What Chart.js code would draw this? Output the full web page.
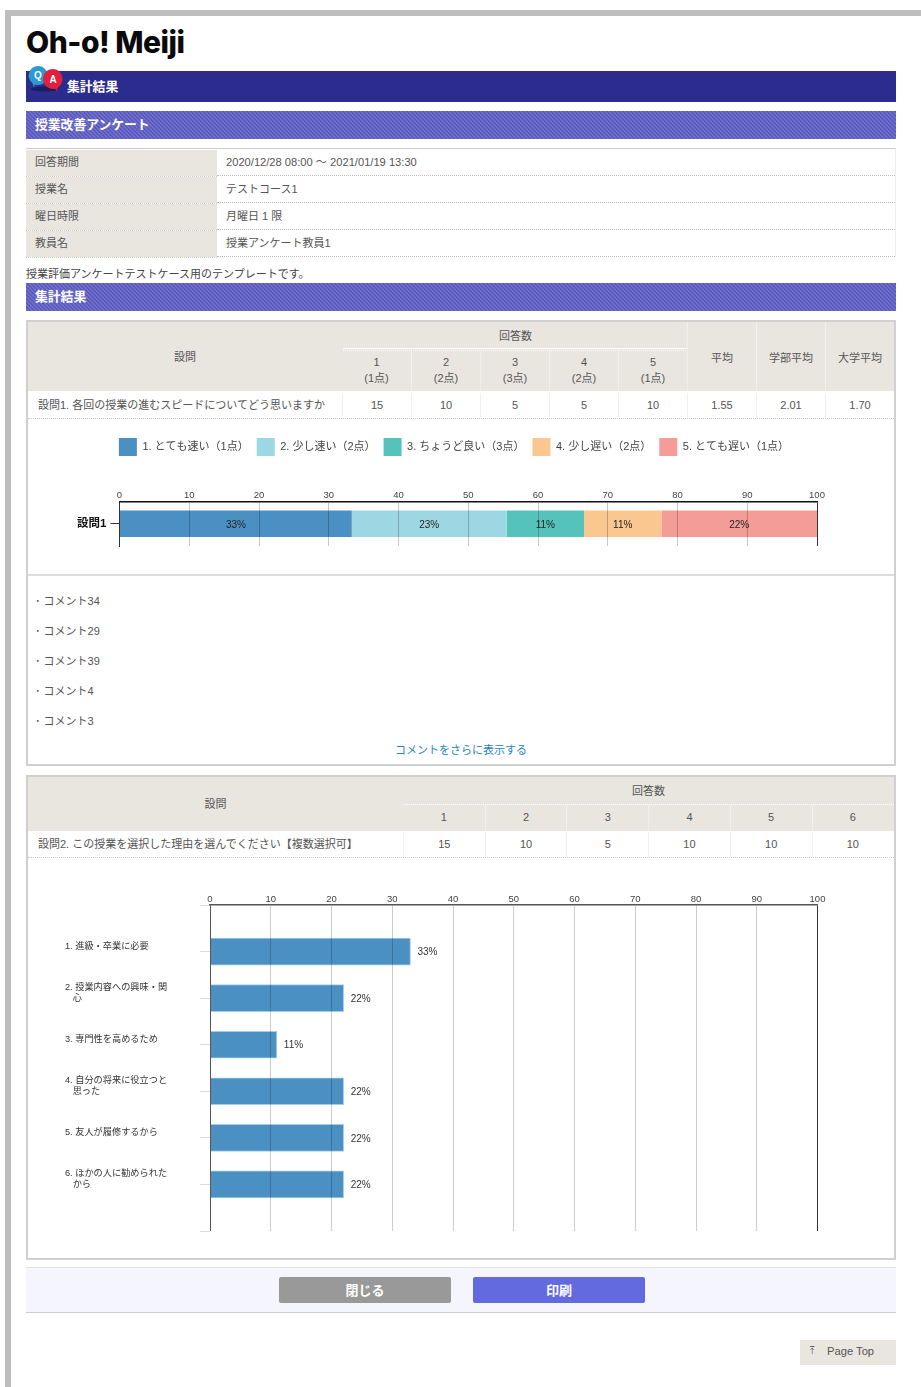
<!DOCTYPE html>
<html lang="ja"><head><meta charset="utf-8">
<script src="https://cdn.jsdelivr.net/npm/chart.js@4"></script>
<style>
html,body{margin:0;padding:0;background:#fff;}
body{width:921px;height:1387px;position:relative;overflow:hidden;font-family:"Liberation Sans","Noto Sans CJK JP",sans-serif;color:#555;font-size:11px;}
.a{position:absolute;box-sizing:border-box;}
.t{position:absolute;white-space:nowrap;line-height:1;}
.c{position:absolute;text-align:center;white-space:nowrap;display:flex;align-items:center;justify-content:center;box-sizing:border-box;line-height:1.45;}
.hatch{background:#6464c4;background-image:repeating-linear-gradient(45deg,#5a5abe 0 1.414px,#7070cc 1.414px 2.828px);}
.bar-t{color:#fff;font-weight:bold;font-size:12.800px;position:absolute;white-space:nowrap;line-height:1;}
canvas{position:absolute;}
</style></head><body>
<div class="a" style="left:5px;top:10px;width:6px;height:1377px;background:#bdbdbd"></div>
<div class="a" style="left:5px;top:10px;width:916px;height:6px;background:#bdbdbd"></div>
<div class="t" style="left:26px;top:27px;font-family:Inter,Lato,sans-serif;font-weight:800;font-size:30px;color:#0a0a0a;letter-spacing:-.5px">Oh-o! Meiji</div>
<div class="a" style="left:26px;top:71px;width:870px;height:31px;background:#2c2c8e"></div>
<svg class="a" style="left:27px;top:64px" width="40" height="30" viewBox="0 0 40 30">
<ellipse cx="18" cy="25" rx="14" ry="2.5" fill="#1c1c5e"/>
<path d="M11 2a9.500 9.500 0 1 1-3 18.500l-1 3-1.500-4.500A9.500 9.500 0 0 1 11 2z" fill="#2a9ad0"/>
<path d="M26 5a10 10 0 1 0 2 19.800l2 2.500 1-4A10 10 0 0 0 26 5z" fill="#e0203c"/>
<text x="11" y="15" font-size="10" font-weight="bold" fill="#fff" text-anchor="middle" font-family="Liberation Sans">Q</text>
<text x="26" y="18.500" font-size="10" font-weight="bold" fill="#fff" text-anchor="middle" font-family="Liberation Sans">A</text>
</svg>
<div class="bar-t" style="left:67px;top:81px">集計結果</div>
<div class="a hatch" style="left:26px;top:111px;width:870px;height:28px"></div>
<div class="bar-t" style="left:35px;top:119px">授業改善アンケート</div>
<div class="a" id="info" style="left:26px;top:148px;width:870px;height:109px;border-top:1px solid #ccc;border-right:1px solid #eee"></div>
<div class="t" style="left:26px;top:269px;color:#444">授業評価アンケートテストケース用のテンプレートです。</div>
<div class="a hatch" style="left:26px;top:283px;width:870px;height:28px"></div>
<div class="bar-t" style="left:35px;top:291px">集計結果</div>

<div class="a" style="left:26px;top:320px;width:870px;height:446px;border:2px solid #d0d0d0"></div>
<div class="a" id="t1" style="left:28px;top:322px;width:866px;height:97px"></div>
<div class="a" style="left:28px;top:574px;width:866px;height:2px;background:#dcdcdc"></div>
<div id="comments"></div>
<div class="t" style="left:28px;width:866px;text-align:center;top:745px;color:#2a86bf;">コメントをさらに表示する</div>
<canvas id="chart1" style="left:27px;top:430px"></canvas>

<div class="a" style="left:26px;top:775px;width:870px;height:485px;border:2px solid #d0d0d0"></div>
<div class="a" id="t2" style="left:28px;top:777px;width:866px;height:81px"></div>
<canvas id="chart2" style="left:28px;top:880px"></canvas>

<div class="a" style="left:26px;top:1267px;width:870px;height:46px;background:#f5f5fd;border-top:1px solid #e2e2e2;border-bottom:1px solid #ccc"></div>
<div class="c" style="left:279px;top:1277px;width:172px;height:26px;padding-top:2px;background:#999;color:#fff;font-weight:bold;font-size:13px;border-radius:2px">閉じる</div>
<div class="c" style="left:473px;top:1277px;width:172px;height:26px;padding-top:2px;background:#636ae0;color:#fff;font-weight:bold;font-size:13px;border-radius:2px">印刷</div>
<div class="a" style="left:800px;top:1340px;width:96px;height:25px;background:#e9e6e0"></div>
<div class="t" style="left:810px;top:1346px;font-family:'DejaVu Sans';font-size:10px;color:#555">⤒</div>
<div class="t" style="left:827px;top:1346px;color:#555;font-size:11.200px">Page Top</div>

<script>
// ---------- page text ----------
const infoLabels = ['回答期間','授業名','曜日時限','教員名'];
const infoValues = ['2020/12/28 08:00 ～ 2021/01/19 13:30','テストコース1','月曜日 1 限','授業アンケート教員1'];
const commentTexts = ['･ コメント34','･ コメント29','･ コメント39','･ コメント4','･ コメント3'];

// ---------- question 1 ----------
const q1Title = '設問1';
const q1Row = '設問1. 各回の授業の進むスピードについてどう思いますか';
const q1Heads = ['1<br>(1点)','2<br>(2点)','3<br>(3点)','4<br>(2点)','5<br>(1点)'];
const q1Counts = [15,10,5,5,10];
const q1Stats = ['1.55','2.01','1.70'];
const q1StatHeads = ['平均','学部平均','大学平均'];
const q1Series = ['1. とても速い（1点）','2. 少し速い（2点）','3. ちょうど良い（3点）','4. 少し遅い（2点）','5. とても遅い（1点）'];
const q1Values = [33.3,22.2,11.1,11.1,22.3];
const q1Labels = ['33%','23%','11%','11%','22%'];
const q1Colors = ['#4b90c2','#9dd7e3','#55c3bb','#f9c78f','#f49c97'];

// ---------- question 2 ----------
const q2Row = '設問2. この授業を選択した理由を選んでください【複数選択可】';
const q2Heads = ['1','2','3','4','5','6'];
const q2Counts = [15,10,5,10,10,10];
const q2Categories = ['',
 ['1. 進級・卒業に必要',''],
 ['2. 授業内容への興味・関','   心',''],
 ['3. 専門性を高めるため',''],
 ['4. 自分の将来に役立つと','   思った',''],
 ['5. 友人が履修するから',''],
 ['6. ほかの人に勧められた','   から',''],
 ''];
const q2Values = [null,33,22,11,22,22,22,null];
const q2Labels = ['','33%','22%','11%','22%','22%','22%',''];
const q2Color = '#4b90c2';
const axisTicks = [0,10,20,30,40,50,60,70,80,90,100];

// ---------- html tables ----------
const BG='#e9e6e0';
function cell(host,x,y,w,h,html,opt){opt=opt||{};
  const d=document.createElement('div');d.className='c';
  d.style.cssText+=`left:${x}px;top:${y}px;width:${w}px;height:${h}px;`+(opt.bg?`background:${opt.bg};`:'')+(opt.css||'');
  d.innerHTML=html;host.appendChild(d);return d;}
const info=document.getElementById('info');
infoLabels.forEach((l,i)=>{
  const y=1+i*27;
  cell(info,0,y,191,26,l,{bg:BG,css:'justify-content:flex-start;padding-left:9px;'});
  cell(info,191,y-0,678,26,infoValues[i],{css:'justify-content:flex-start;padding-left:9px;border-bottom:1px dotted #bbb;'+(i?'':'font-size:11.150px;')});
  cell(info,0,y+26,191,1,'',{css:'border-bottom:1px dotted #ccc;'});
});
const t1=document.getElementById('t1');
const V='border-left:1px solid #f2f0ec;';
cell(t1,0,0,866,69,'',{bg:BG});
cell(t1,0,0,314,72,'設問');
cell(t1,315,0,345,29,'回答数');
cell(t1,315,26,345,3,'',{css:'border-top:1px solid #fff;border-bottom:1px dotted #fff;'});
q1Heads.forEach((h,i)=>cell(t1,314+i*69,29,69,40,h,{css:'line-height:16px;padding-bottom:2px;'+(i?V:'')}));
q1StatHeads.forEach((h,i)=>cell(t1,659+i*69,0,69,69,'<span style="position:relative;top:2px">'+h+'</span>',{css:V}));
cell(t1,0,71,315,25,q1Row,{css:'justify-content:flex-start;padding-left:10px;'});
q1Counts.forEach((v,i)=>cell(t1,314+i*69,71,69,25,String(v),{css:V}));
q1Stats.forEach((v,i)=>cell(t1,659+i*69,71,69,25,v,{css:V}));
cell(t1,0,96,866,1,'',{css:'border-bottom:1px dotted #ccc;'});
const t2=document.getElementById('t2');
cell(t2,0,0,866,54,'',{bg:BG});
cell(t2,0,0,375,56,'設問');
cell(t2,375,0,491,29,'回答数');
cell(t2,375,26,491,2,'',{css:'border-bottom:1px dotted #fff;'});
q2Heads.forEach((h,i)=>cell(t2,375+i*81.7,28,81.7,26,h,{css:i?V:''}));
cell(t2,0,55,375,25,q2Row,{css:'justify-content:flex-start;padding-left:10px;'});
q2Counts.forEach((v,i)=>cell(t2,375+i*81.7,55,81.7,25,String(v),{css:V}));
cell(t2,0,80,866,1,'',{css:'border-bottom:1px dotted #ccc;'});
const cm=document.getElementById('comments');
commentTexts.forEach((c,i)=>{const d=document.createElement('div');d.className='t';
  d.style.cssText=`left:35px;top:${596+i*30}px;`;d.textContent=c;cm.appendChild(d);});

// ---------- charts ----------
const FF='"Liberation Sans","Noto Sans CJK JP",sans-serif';
Chart.defaults.animation=false;
Chart.defaults.responsive=false;
Chart.defaults.font.family=FF;

const c1=document.getElementById('chart1');c1.width=848;c1.height=130;
const stackLabels={id:'stackLabels',afterDatasetsDraw(ch){
  const g=ch.ctx;g.save();g.font='10px '+FF;g.fillStyle='#222';g.textAlign='center';g.textBaseline='middle';
  ch.data.datasets.forEach((ds,i)=>{const el=ch.getDatasetMeta(i).data[0];
    g.fillText(q1Labels[i],(el.base+el.x)/2,el.y+1);});
  g.restore();}};
new Chart(c1,{type:'bar',
  data:{labels:[q1Title],datasets:q1Series.map((s,i)=>({label:s,data:[q1Values[i]],backgroundColor:q1Colors[i],borderWidth:0,barPercentage:.6,categoryPercentage:1}))},
  options:{indexAxis:'y',
    layout:{padding:{top:0,right:58,bottom:14,left:64}},
    plugins:{tooltip:{enabled:false},
      legend:{position:'top',labels:{boxWidth:18,boxHeight:18,padding:8,color:'#444',font:{size:11}}}},
    scales:{
      x:{type:'linear',position:'top',stacked:true,min:0,max:100,
        afterBuildTicks(a){a.ticks=axisTicks.map(v=>({value:v}));},
        afterFit(a){a.height=35.5;},
        border:{color:'#111',width:1.5,z:1},
        grid:{z:1,drawTicks:false,color:c=>(c.tick.value===0||c.tick.value===100)?'#333':'rgba(0,0,0,.22)'},
        ticks:{maxRotation:0,autoSkip:false,padding:0,color:'#444',font:{size:9.5}}},
      y:{stacked:true,
        afterFit(a){a.width=28.5;},
        border:{color:'#222'},
        grid:{offset:false,drawOnChartArea:false,tickLength:9,tickColor:'#333'},
        ticks:{mirror:true,padding:-42.5,color:'#111',font:{size:11.5,weight:'bold'}}}
    }},
  plugins:[stackLabels]});

const c2=document.getElementById('chart2');c2.width=860;c2.height=360;
const endLabels={id:'endLabels',afterDatasetsDraw(ch){
  const g=ch.ctx;g.save();g.font='10px '+FF;g.fillStyle='#333';g.textAlign='left';g.textBaseline='middle';
  ch.getDatasetMeta(0).data.forEach((el,i)=>{ if(q2Labels[i]) g.fillText(q2Labels[i],el.x+7,el.y+1); });
  g.restore();}};
new Chart(c2,{type:'bar',
  data:{labels:q2Categories,datasets:[{data:q2Values,backgroundColor:q2Color,borderColor:'#a5cde6',borderWidth:1,barThickness:27}]},
  options:{indexAxis:'y',
    layout:{padding:{top:0,right:70.5,bottom:9,left:37}},
    plugins:{tooltip:{enabled:false},legend:{display:false}},
    scales:{
      x:{type:'linear',position:'top',min:0,max:100,
        afterBuildTicks(a){a.ticks=axisTicks.map(v=>({value:v}));},
        afterFit(a){a.height=25;},
        border:{color:'#555',width:1.5,z:1},
        grid:{z:1,drawTicks:false,color:c=>c.tick.value===0?'#555':(c.tick.value===100?'#333':'rgba(0,0,0,.2)')},
        ticks:{maxRotation:0,autoSkip:false,padding:0,color:'#444',font:{size:9.5}}},
      y:{offset:false,
        afterFit(a){a.width=145;},
        border:{display:false},
        grid:{offset:false,drawOnChartArea:false,tickLength:10,tickColor:'#ddd'},
        ticks:{autoSkip:false,crossAlign:'far',padding:0,color:'#333',font:{size:9.2,lineHeight:1.2}}}
    }},
  plugins:[endLabels]});
</script>
</body></html>
